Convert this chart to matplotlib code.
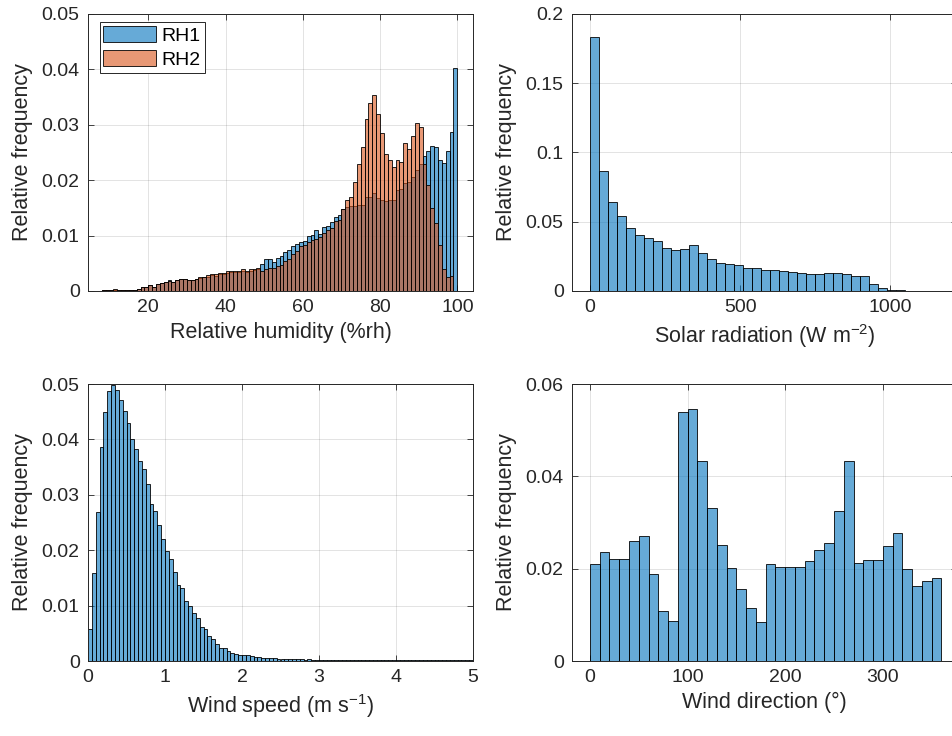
import numpy as np
import matplotlib
matplotlib.use('Agg')
import matplotlib.pyplot as plt
from matplotlib.ticker import FuncFormatter

plt.rcParams['font.family'] = ['Liberation Sans', 'DejaVu Sans']
plt.rcParams['mathtext.default'] = 'regular'

# --- data (relative frequency per bin)
# relative humidity, 1 %rh bins starting at 8 %rh
rh_start = 8
rh1 = [0.0001, 0.0001, 0.0002, 0.0002, 0.0001, 0.0001, 0.0001, 0.0001, 0.0002, 0.0004,
       0.0007, 0.0007, 0.0010, 0.0008, 0.0013, 0.0015, 0.0016, 0.0019, 0.0017, 0.0020,
       0.0022, 0.0021, 0.0020, 0.0019, 0.0022, 0.0024, 0.0025, 0.0026, 0.0028, 0.0027,
       0.0030, 0.0031, 0.0033, 0.0034, 0.0035, 0.0034, 0.0036, 0.0035, 0.0037, 0.0038,
       0.0040, 0.0048, 0.0058, 0.0057, 0.0053, 0.0060, 0.0063, 0.0070, 0.0074, 0.0082,
       0.0084, 0.0088, 0.0090, 0.0099, 0.0101, 0.0111, 0.0102, 0.0116, 0.0117, 0.0124,
       0.0133, 0.0137, 0.0148, 0.0152, 0.0154, 0.0154, 0.0155, 0.0155, 0.0169, 0.0169,
       0.0176, 0.0167, 0.0164, 0.0163, 0.0165, 0.0164, 0.0183, 0.0184, 0.0195, 0.0197,
       0.0205, 0.0219, 0.0229, 0.0244, 0.0253, 0.0261, 0.0260, 0.0236, 0.0231, 0.0253,
       0.0287, 0.0403]
rh2 = [0.0001, 0.0001, 0.0002, 0.0003, 0.0001, 0.0001, 0.0001, 0.0001, 0.0002, 0.0004,
       0.0007, 0.0007, 0.0010, 0.0008, 0.0012, 0.0014, 0.0016, 0.0018, 0.0017, 0.0020,
       0.0022, 0.0021, 0.0020, 0.0020, 0.0022, 0.0025, 0.0026, 0.0028, 0.0030, 0.0030,
       0.0033, 0.0033, 0.0037, 0.0037, 0.0037, 0.0036, 0.0039, 0.0036, 0.0039, 0.0039,
       0.0041, 0.0037, 0.0039, 0.0041, 0.0042, 0.0045, 0.0047, 0.0055, 0.0057, 0.0066,
       0.0072, 0.0081, 0.0083, 0.0089, 0.0092, 0.0093, 0.0098, 0.0105, 0.0111, 0.0114,
       0.0127, 0.0129, 0.0148, 0.0165, 0.0170, 0.0197, 0.0229, 0.0260, 0.0311, 0.0340,
       0.0354, 0.0319, 0.0286, 0.0247, 0.0236, 0.0223, 0.0236, 0.0233, 0.0267, 0.0257,
       0.0280, 0.0304, 0.0296, 0.0229, 0.0192, 0.0149, 0.0122, 0.0083, 0.0040, 0.0025,
       0.0027]

# solar radiation, 30 W m-2 bins from 0
sol_width = 30
sol = [0.1832, 0.0865, 0.0642, 0.0541, 0.0457, 0.0406, 0.0385, 0.0361, 0.0308, 0.0293,
       0.0305, 0.0332, 0.0276, 0.0233, 0.0204, 0.0197, 0.0190, 0.0163, 0.0168, 0.0154,
       0.0149, 0.0147, 0.0139, 0.0132, 0.0120, 0.0125, 0.0132, 0.0127, 0.0125, 0.0108,
       0.0108, 0.0050, 0.0024, 0.0010, 0.0005, 0.0003, 0.0002, 0.0001, 0.0001]

# wind speed, 0.05 m s-1 bins from 0
ws_width = 0.05
ws = [0.0057, 0.0158, 0.0269, 0.0386, 0.0449, 0.0487, 0.0499, 0.0489, 0.0472, 0.0452,
      0.0430, 0.0400, 0.0382, 0.0361, 0.0346, 0.0319, 0.0284, 0.0270, 0.0246, 0.0220,
      0.0199, 0.0184, 0.0160, 0.0137, 0.0132, 0.0108, 0.0099, 0.0087, 0.0077, 0.0062,
      0.0057, 0.0045, 0.0039, 0.0031, 0.0023, 0.0023, 0.0018, 0.0014, 0.0013, 0.0011,
      0.0011, 0.0010, 0.0009, 0.0008, 0.0007, 0.0006, 0.0006, 0.0005, 0.0005, 0.0004,
      0.0004, 0.0004, 0.0003, 0.0003, 0.0003, 0.0003, 0.0002, 0.0003, 0.0002, 0.0002,
      0.0002, 0.0001, 0.0002, 0.0002, 0.0001, 0.0002, 0.0001, 0.0001, 0.0002, 0.0001,
      0.0001, 0.0001, 0.0001, 0.0001, 0.0001, 0.0001, 0.0001, 0.0001, 0.0001, 0.0001,
      0.0001, 0.0001, 0.0001, 0.0001, 0.0001, 0.0001, 0.0001, 0.0001, 0.0001, 0.0001,
      0.0001, 0.0001, 0.0001, 0.0001, 0.0001, 0.0001, 0.0001, 0.0001, 0.0001, 0.0001]

# wind direction, 10 degree bins from 0
wd_width = 10
wd = [0.0211, 0.0237, 0.0220, 0.0221, 0.0260, 0.0271, 0.0188, 0.0108, 0.0086, 0.0540,
      0.0546, 0.0433, 0.0331, 0.0251, 0.0202, 0.0157, 0.0114, 0.0084, 0.0211, 0.0203,
      0.0204, 0.0203, 0.0217, 0.0240, 0.0256, 0.0324, 0.0434, 0.0213, 0.0219, 0.0218,
      0.0249, 0.0277, 0.0200, 0.0162, 0.0173, 0.0180]

blue = (0.0, 0.447, 0.741, 0.6)
orange = (0.85, 0.325, 0.098, 0.6)
txt = '#262626'

# --- figure
fig = plt.figure(figsize=(9.52, 7.36), dpi=100)
W, H = 952, 736
def axes_px(l, t, r, b):
	return fig.add_axes([l/W, 1 - b/H, (r - l)/W, (b - t)/H])

ax1 = axes_px(88, 14, 473, 291)
ax2 = axes_px(572, 14, 957, 291)
ax3 = axes_px(88, 384, 473, 661)
ax4 = axes_px(572, 384, 957, 661)

def style(ax):
	ax.set_axisbelow(True)
	ax.grid(True, color=txt, alpha=0.15, linewidth=0.6)
	ax.tick_params(direction='in', top=True, right=True, length=4, width=0.6,
				   labelsize=14, colors=txt, pad=6)
	for s in ax.spines.values():
		s.set_color(txt)
		s.set_linewidth(0.7)
	ax.yaxis.set_major_formatter(FuncFormatter(lambda v, p: '%g' % round(v, 4)))
	ax.set_ylabel('Relative frequency', fontsize=15.5, color=txt, labelpad=6)

bar_kw = dict(align='edge', edgecolor=(0, 0, 0, 0.85), linewidth=0.7)

# relative humidity
x1 = rh_start + np.arange(len(rh1))
x2 = rh_start + np.arange(len(rh2))
ax1.bar(x1, rh1, width=1, color=blue, label='RH1', **bar_kw)
ax1.bar(x2, rh2, width=1, color=orange, label='RH2', **bar_kw)
ax1.set_xlim(4.4, 104.06)
ax1.set_ylim(0, 0.05)
ax1.set_xticks([20, 40, 60, 80, 100])
ax1.set_yticks(np.arange(0, 0.051, 0.01))
style(ax1)
ax1.set_xlabel('Relative humidity (%rh)', fontsize=15.5, color=txt, labelpad=4)
leg = ax1.legend(loc='upper left', bbox_to_anchor=(0.03, 0.97), fontsize=14,
				 handlelength=2.7, handleheight=0.9, fancybox=False, framealpha=1,
				 borderpad=0.2, labelspacing=0.25, handletextpad=0.3, borderaxespad=0)
leg.get_frame().set_edgecolor(txt)
leg.get_frame().set_linewidth(0.7)

# solar radiation
ax2.bar(np.arange(len(sol))*sol_width, sol, width=sol_width, color=blue, **bar_kw)
ax2.set_xlim(-60, 1222)
ax2.set_ylim(0, 0.2)
ax2.set_xticks([0, 500, 1000])
ax2.set_yticks([0, 0.05, 0.1, 0.15, 0.2])
style(ax2)
ax2.set_xlabel('Solar radiation (W m$^{-2}$)', fontsize=15.5, color=txt, labelpad=4)

# wind speed
ax3.bar(np.arange(len(ws))*ws_width, ws, width=ws_width, color=blue, **bar_kw)
ax3.set_xlim(0, 5)
ax3.set_ylim(0, 0.05)
ax3.set_xticks([0, 1, 2, 3, 4, 5])
ax3.set_yticks(np.arange(0, 0.051, 0.01))
style(ax3)
ax3.set_xlabel('Wind speed (m s$^{-1}$)', fontsize=15.5, color=txt, labelpad=4)

# wind direction
ax4.bar(np.arange(len(wd))*wd_width, wd, width=wd_width, color=blue, **bar_kw)
ax4.set_xlim(-18.4, 376)
ax4.set_ylim(0, 0.06)
ax4.set_xticks([0, 100, 200, 300])
ax4.set_yticks([0, 0.02, 0.04, 0.06])
style(ax4)
ax4.set_xlabel('Wind direction (°)', fontsize=15.5, color=txt, labelpad=4)

plt.savefig('out.png', dpi=100, facecolor='white')
